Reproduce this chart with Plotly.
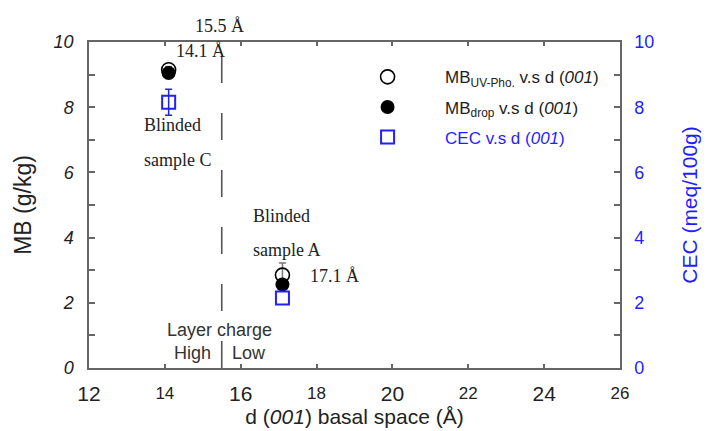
import numpy as np
import plotly.graph_objects as go

# ---- data ----
d001 = [14.1, 17.1]                 # basal spacing (Å) for sample C, sample A
mb_uv = [9.15, 2.85]                # MB UV-Pho. (g/kg)
mb_uv_err = [0.1, 0.37]
mb_drop = [9.05, 2.56]              # MB drop (g/kg)
cec = [8.15, 2.15]                  # CEC (meq/100g)
cec_err = [0.4, np.nan]             # no visible error bar for sample A
boundary = 15.5                     # layer-charge boundary (Å)

x_big_ticks = [12, 16, 20, 24]
x_small_ticks = [14, 18, 22, 26]
y_ticks = [0, 2, 4, 6, 8, 10]

AX = "#666666"
TXT = "#222222"
BLUE = "#1f1fff"
SERIF = "Liberation Serif, Times New Roman, serif"
SANS = "Liberation Sans, Arial, sans-serif"

fig = go.Figure()

fig.add_trace(go.Scatter(
    x=d001, y=mb_uv, mode="markers", legendgroup="a",
    name="MB<sub>UV-Pho.</sub> v.s d (<i>001</i>)",
    marker=dict(symbol="circle-open", size=14, color="black", line=dict(width=1.6)),
    error_y=dict(type="data", array=np.array(mb_uv_err, dtype=float), color="#777777", thickness=1.5, width=3.5),
))
fig.add_trace(go.Scatter(
    x=d001, y=mb_drop, mode="markers", legendgroup="b",
    name="MB<sub>drop</sub> v.s d (<i>001</i>)",
    marker=dict(symbol="circle", size=14, color="black"),
))
fig.add_trace(go.Scatter(
    x=d001, y=cec, mode="markers", legendgroup="c", xaxis="x2", yaxis="y2",
    name="<span style='color:%s'>CEC v.s d (<i>001</i>)</span>" % BLUE,
    marker=dict(symbol="square-open", size=13, color=BLUE, line=dict(width=2)),
    error_y=dict(type="data", array=np.array(cec_err, dtype=float), color=BLUE, thickness=1.5, width=3.5),
))

# dashed boundary line
fig.add_shape(type="line", xref="x", yref="y", x0=boundary, x1=boundary, y0=0, y1=10,
              line=dict(color="#555555", width=1.6, dash="27px,30px"))

ann = [
    dict(text="15.5 Å", x=15.43, y=1.049, yref="paper", xanchor="center", font=dict(family=SERIF, size=18)),
    dict(text="14.1 Å", x=14.93, y=9.71, xanchor="center", font=dict(family=SERIF, size=18)),
    dict(text="Blinded", x=13.40, y=7.45, xanchor="left", font=dict(family=SERIF, size=18)),
    dict(text="sample C", x=13.40, y=6.39, xanchor="left", font=dict(family=SERIF, size=18)),
    dict(text="Blinded", x=16.27, y=4.65, xanchor="left", font=dict(family=SERIF, size=18)),
    dict(text="sample A", x=16.27, y=3.63, xanchor="left", font=dict(family=SERIF, size=18)),
    dict(text="17.1 Å", x=17.77, y=2.83, xanchor="left", font=dict(family=SERIF, size=18)),
    dict(text="Layer charge", x=15.44, y=1.17, xanchor="center", font=dict(family=SANS, size=18, color="#333333")),
    dict(text="High", x=15.27, y=0.45, xanchor="right", font=dict(family=SANS, size=18, color="#333333")),
    dict(text="Low", x=15.72, y=0.45, xanchor="left", font=dict(family=SANS, size=18, color="#333333")),
]
for a in ann:
    a.setdefault("font", {}).setdefault("color", TXT)
    a.setdefault("yref", "y")
    fig.add_annotation(xref="x", yanchor="middle", showarrow=False, **a)

fig.update_layout(
    width=707, height=431,
    margin=dict(l=89, r=87, t=42, b=63),
    paper_bgcolor="white", plot_bgcolor="white",
    font=dict(family=SANS, color=TXT),
    showlegend=True,
    legend=dict(x=0.454, y=0.947, xanchor="left", yanchor="top", bgcolor="rgba(0,0,0,0)",
                font=dict(family=SANS, size=17, color=TXT), itemwidth=105,
                tracegroupgap=5),
    xaxis=dict(range=[12, 26], tickvals=x_big_ticks, ticktext=[str(v) for v in x_big_ticks],
               showline=True, linecolor=AX, linewidth=1.5, mirror="ticks", automargin=False,
               ticks="inside", ticklen=4, tickcolor=AX, tickwidth=1.5,
               tickfont=dict(size=21, color=TXT), showgrid=False, zeroline=False,
               ticklabelstandoff=6,
               title=dict(text="d (<i>001</i>) basal space (Å)", font=dict(size=21, color=TXT), standoff=3)),
    xaxis2=dict(range=[12, 26], overlaying="x", anchor="y2", side="bottom", automargin=False,
                tickvals=x_small_ticks, ticktext=[str(v) for v in x_small_ticks],
                showline=False, mirror="ticks",
                ticks="inside", ticklen=4, tickcolor=AX, tickwidth=1.5,
                tickfont=dict(size=17, color=TXT), showgrid=False, zeroline=False,
                ticklabelstandoff=13),
    yaxis=dict(range=[0, 10], tickvals=y_ticks, showline=True, linecolor=AX, linewidth=1.5,
               mirror=True, ticks="inside", ticklen=6, tickcolor=AX, tickwidth=1.5, automargin=False,
               minor=dict(dtick=1, ticks="inside", ticklen=6, tickcolor=AX, tickwidth=1.5),
               tickfont=dict(size=18, color=TXT, style="italic"), showgrid=False, zeroline=False,
               ticklabelstandoff=10,
               title=dict(text="MB (g/kg)", font=dict(size=23, color=TXT), standoff=16)),
    yaxis2=dict(range=[0, 10], overlaying="y", side="right", anchor="x2", automargin=False,
                tickvals=y_ticks, showline=True, linecolor=AX, linewidth=1.5,
                ticks="inside", ticklen=6, tickcolor=AX, tickwidth=1.5,
                minor=dict(dtick=1, ticks="inside", ticklen=6, tickcolor=AX, tickwidth=1.5),
                tickfont=dict(size=18, color=BLUE), showgrid=False, zeroline=False,
                ticklabelstandoff=9,
                title=dict(text="CEC (meq/100g)", font=dict(size=21, color=BLUE), standoff=29)),
)

fig.write_html("out.html", config={"displayModeBar": False},
               post_script="document.body.style.margin='0';")
